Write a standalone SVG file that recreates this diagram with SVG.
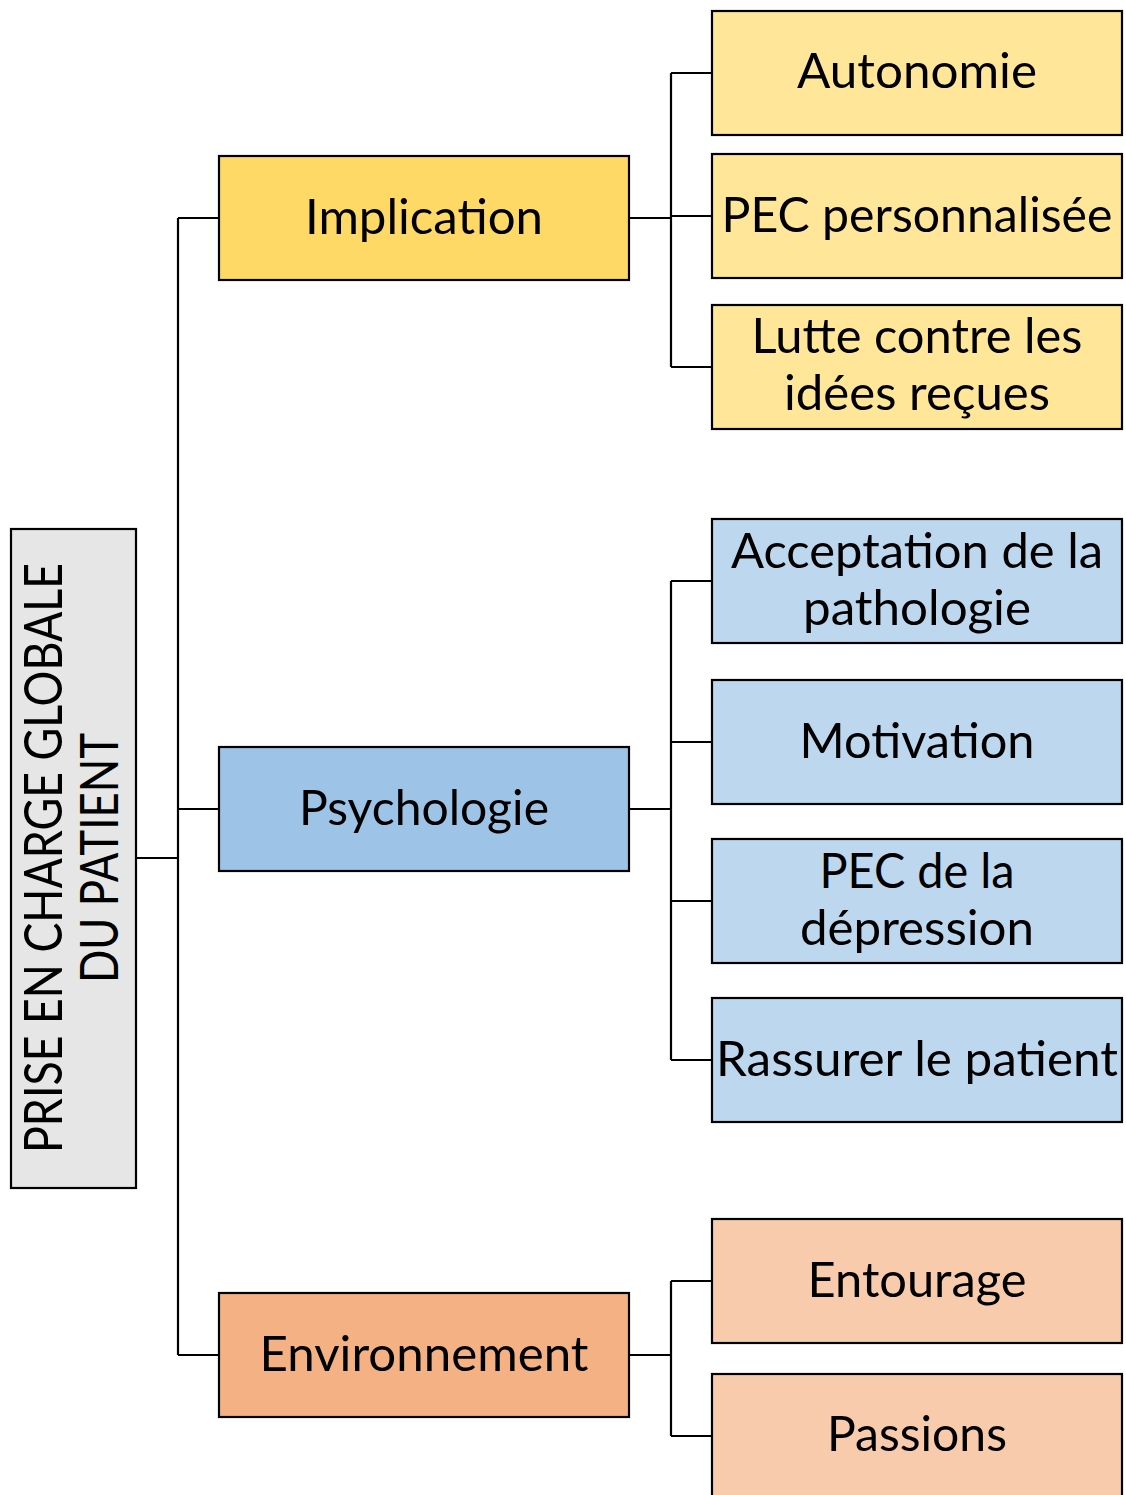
<svg xmlns="http://www.w3.org/2000/svg" width="1126" height="1495" viewBox="0 0 1126 1495">
<style>
rect{stroke:#000;stroke-width:2.2}
.root{fill:#e6e6e6}
.y1{fill:#ffd966}.y2{fill:#ffe699}
.b1{fill:#9dc3e6}.b2{fill:#bdd7ee}
.o1{fill:#f4b183}.o2{fill:#f8cbad}
text{font-family:Lato,"Liberation Sans",sans-serif;font-size:48px;fill:#000;text-anchor:middle}
.rt{font-size:52px}
#connectors path{fill:none;stroke:#000;stroke-width:2.2}
</style>
<rect width="1126" height="1495" fill="#fff" style="stroke:none"/>
<g id="connectors">
<path d="M136 858H178M178 218V1355M178 218H219M178 809H219M178 1355H219"/>
<path d="M629 218H671M671 73V367M671 73H712M671 216H712M671 367H712"/>
<path d="M629 809H671M671 581V1060M671 581H712M671 742H712M671 901H712M671 1060H712"/>
<path d="M629 1355H671M671 1281V1436M671 1281H712M671 1436H712"/>
</g>
<g id="root">
<rect class="root" x="11" y="529" width="125" height="659"/>
<text class="rt" transform="translate(62,858) rotate(-90)" textLength="590" lengthAdjust="spacingAndGlyphs">PRISE EN CHARGE GLOBALE</text>
<text class="rt" transform="translate(118,858) rotate(-90)" textLength="250" lengthAdjust="spacingAndGlyphs">DU PATIENT</text>
</g>
<g id="implication">
<rect class="y1" x="219" y="156" width="410" height="124"/>
<text x="424" y="234" textLength="238" lengthAdjust="spacingAndGlyphs">Implication</text>
</g>
<g id="psychologie">
<rect class="b1" x="219" y="747" width="410" height="124"/>
<text x="424" y="825" textLength="250" lengthAdjust="spacingAndGlyphs">Psychologie</text>
</g>
<g id="environnement">
<rect class="o1" x="219" y="1293" width="410" height="124"/>
<text x="424" y="1371" textLength="329" lengthAdjust="spacingAndGlyphs">Environnement</text>
</g>
<g id="autonomie">
<rect class="y2" x="712" y="11" width="410" height="124"/>
<text x="917" y="88" textLength="240" lengthAdjust="spacingAndGlyphs">Autonomie</text>
</g>
<g id="pec-perso">
<rect class="y2" x="712" y="154" width="410" height="124"/>
<text x="917" y="232" textLength="391" lengthAdjust="spacingAndGlyphs">PEC personnalisée</text>
</g>
<g id="lutte">
<rect class="y2" x="712" y="305" width="410" height="124"/>
<text x="917" y="353" textLength="331" lengthAdjust="spacingAndGlyphs">Lutte contre les</text>
<text x="917" y="410" textLength="266" lengthAdjust="spacingAndGlyphs">idées reçues</text>
</g>
<g id="acceptation">
<rect class="b2" x="712" y="519" width="410" height="124"/>
<text x="917" y="568" textLength="372" lengthAdjust="spacingAndGlyphs">Acceptation de la</text>
<text x="917" y="625" textLength="228" lengthAdjust="spacingAndGlyphs">pathologie</text>
</g>
<g id="motivation">
<rect class="b2" x="712" y="680" width="410" height="124"/>
<text x="917" y="758" textLength="235" lengthAdjust="spacingAndGlyphs">Motivation</text>
</g>
<g id="pec-depression">
<rect class="b2" x="712" y="839" width="410" height="124"/>
<text x="917" y="888" textLength="195" lengthAdjust="spacingAndGlyphs">PEC de la</text>
<text x="917" y="945" textLength="234" lengthAdjust="spacingAndGlyphs">dépression</text>
</g>
<g id="rassurer">
<rect class="b2" x="712" y="998" width="410" height="124"/>
<text x="917" y="1076" textLength="402" lengthAdjust="spacingAndGlyphs">Rassurer le patient</text>
</g>
<g id="entourage">
<rect class="o2" x="712" y="1219" width="410" height="124"/>
<text x="917" y="1297" textLength="219" lengthAdjust="spacingAndGlyphs">Entourage</text>
</g>
<g id="passions">
<rect class="o2" x="712" y="1374" width="410" height="124"/>
<text x="917" y="1451" textLength="180" lengthAdjust="spacingAndGlyphs">Passions</text>
</g>
</svg>
